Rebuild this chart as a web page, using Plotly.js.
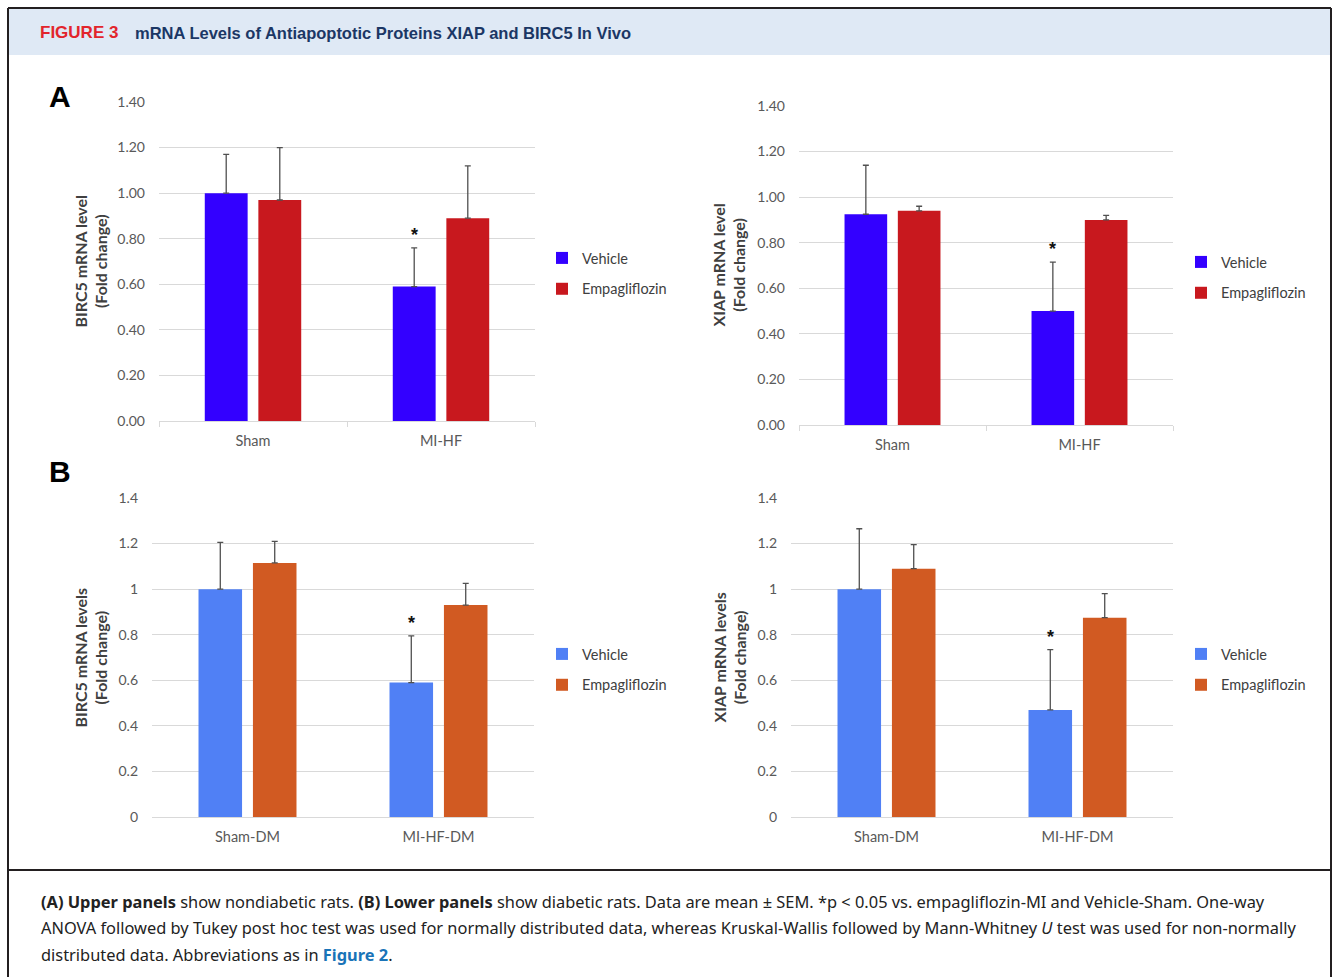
<!DOCTYPE html>
<html>
<head>
<meta charset="utf-8">
<script src="https://cdn.plot.ly/plotly-3.0.1.min.js"></script>
<style>
  html, body { margin: 0; padding: 0; background: #ffffff; }
  #chart { width: 1336px; height: 977px; }
</style>
</head>
<body>
<div id="chart"></div>
<script>
// ---------------- Data ----------------
const groupsNonDiabetic = ['Sham', 'MI-HF'];
const groupsDiabetic = ['Sham-DM', 'MI-HF-DM'];
const seriesNames = ['Vehicle', 'Empagliflozin'];

// Panel A (non-diabetic) – BIRC5
const birc5A_vehicle = [1.00, 0.59];
const birc5A_vehicleSem = [0.17, 0.17];
const birc5A_empa = [0.97, 0.89];
const birc5A_empaSem = [0.23, 0.23];

// Panel A (non-diabetic) – XIAP
const xiapA_vehicle = [0.925, 0.50];
const xiapA_vehicleSem = [0.215, 0.215];
const xiapA_empa = [0.94, 0.90];
const xiapA_empaSem = [0.02, 0.02];

// Panel B (diabetic) – BIRC5
const birc5B_vehicle = [1.00, 0.59];
const birc5B_vehicleSem = [0.205, 0.205];
const birc5B_empa = [1.115, 0.93];
const birc5B_empaSem = [0.095, 0.095];

// Panel B (diabetic) – XIAP
const xiapB_vehicle = [1.00, 0.47];
const xiapB_vehicleSem = [0.265, 0.265];
const xiapB_empa = [1.09, 0.875];
const xiapB_empaSem = [0.105, 0.105];

// significance marker (index of the group carrying "*", on the Vehicle bar)
const sigIndex = 1;

const yTitles = ['BIRC5 mRNA level<br>(Fold change)', 'XIAP mRNA level<br>(Fold change)',
                 'BIRC5 mRNA levels<br>(Fold change)', 'XIAP mRNA levels<br>(Fold change)'];

// ---------------- Styling ----------------
const W = 1336, H = 977;
const px = x => x / W;
const py = y => 1 - y / H;
const FONT = 'Lato, "Open Sans", sans-serif';
const BARGAP = 0.43, BARGROUPGAP = 0.2;
const colA = ['#3300ff', '#c8181e'];
const colB = ['#5080f5', '#d15a22'];
const grid = '#d9d9d9';
const tickCol = '#595959';

const panels = [
  {cats: groupsNonDiabetic, veh: birc5A_vehicle, vehS: birc5A_vehicleSem, emp: birc5A_empa, empS: birc5A_empaSem,
   cols: colA, x: [159, 535], y: [421, 102], fmt: '.2f', ticks: true, legX: 542, legY: 242, title: yTitles[0], titleX: 90},
  {cats: groupsNonDiabetic, veh: xiapA_vehicle, vehS: xiapA_vehicleSem, emp: xiapA_empa, empS: xiapA_empaSem,
   cols: colA, x: [799, 1173], y: [425, 106], fmt: '.2f', ticks: true, legX: 1181, legY: 246, title: yTitles[1], titleX: 729},
  {cats: groupsDiabetic, veh: birc5B_vehicle, vehS: birc5B_vehicleSem, emp: birc5B_empa, empS: birc5B_empaSem,
   cols: colB, x: [152, 534], y: [817, 498], fmt: '', ticks: false, legX: 542, legY: 638, title: yTitles[2], titleX: 90},
  {cats: groupsDiabetic, veh: xiapB_vehicle, vehS: xiapB_vehicleSem, emp: xiapB_empa, empS: xiapB_empaSem,
   cols: colB, x: [791, 1173], y: [817, 498], fmt: '', ticks: false, legX: 1181, legY: 638, title: yTitles[3], titleX: 729}
];

const data = [];
const layout = {
  width: W, height: H, autosize: false,
  margin: {l: 0, r: 0, t: 0, b: 0, pad: 0},
  paper_bgcolor: '#ffffff', plot_bgcolor: '#ffffff',
  font: {family: FONT, size: 14, color: tickCol},
  barmode: 'group', bargap: BARGAP, bargroupgap: BARGROUPGAP,
  showlegend: true,
  annotations: [], shapes: []
};

panels.forEach((p, i) => {
  const n = i === 0 ? '' : String(i + 1);
  const legName = 'legend' + n;
  const xa = 'x' + n, ya = 'y' + n;
  const mk = (name, vals, sem, color, k) => ({
    type: 'bar', name: name, x: p.cats, y: vals,
    xaxis: xa, yaxis: ya, legend: legName, legendgroup: 'g' + i + '_' + k,
    marker: {color: color, line: {width: 0}},
    error_y: {type: 'data', array: sem, arrayminus: sem.map(() => 0), symmetric: false,
              visible: true, color: '#505050', thickness: 1.3, width: 3},
    hoverinfo: 'x+y+name'
  });
  data.push(mk(seriesNames[0], p.veh, p.vehS, p.cols[0], 0));
  data.push(mk(seriesNames[1], p.emp, p.empS, p.cols[1], 1));

  layout['xaxis' + n] = {
    domain: [px(p.x[0]), px(p.x[1])], anchor: ya, type: 'category',
    showgrid: false, zeroline: false, showline: true, linecolor: grid, linewidth: 1,
    ticks: 'outside', tickson: 'boundaries', ticklen: 5,
    tickcolor: p.ticks ? grid : 'rgba(0,0,0,0)', ticklabelstandoff: 7,
    tickfont: {family: FONT, size: 14.5, color: tickCol}, fixedrange: true
  };
  layout['yaxis' + n] = {
    domain: [py(p.y[0]), py(p.y[1])], anchor: xa, range: [0, 1.4], dtick: 0.2,
    tickformat: p.fmt, showgrid: true, gridcolor: grid, gridwidth: 1, zeroline: false,
    showline: false, ticks: '', ticklabelstandoff: 13,
    tickfont: {family: FONT, size: 14, color: tickCol}, fixedrange: true
  };
  layout[legName] = {
    x: px(p.legX), y: py(p.legY), xanchor: 'left', yanchor: 'top',
    xref: 'paper', yref: 'paper', bgcolor: 'rgba(0,0,0,0)', borderwidth: 0,
    traceorder: 'grouped', tracegroupgap: 9, itemwidth: 30,
    font: {family: FONT, size: 14.5, color: '#404040'}
  };
  // y-axis title
  layout.annotations.push({
    xref: 'paper', yref: 'paper', x: px(p.titleX), y: py((p.y[0] + p.y[1]) / 2),
    xanchor: 'center', yanchor: 'middle', textangle: -90, showarrow: false,
    text: '<b>' + p.title + '</b>', font: {family: FONT, size: 16, color: '#404040'}
  });
  // significance asterisk above the Vehicle error bar
  layout.annotations.push({
    xref: xa, yref: ya, x: sigIndex - (1 - BARGAP) / 4, y: p.veh[sigIndex] + p.vehS[sigIndex],
    xanchor: 'center', yanchor: 'bottom', showarrow: false, yshift: 1,
    text: '<b>*</b>', font: {family: 'Liberation Sans, Arial, sans-serif', size: 18, color: '#111111'}
  });
});

// panel letters
layout.annotations.push({xref: 'paper', yref: 'paper', x: px(47), y: py(97), xanchor: 'left', yanchor: 'middle',
  showarrow: false, text: '<b>A</b>', font: {family: 'Liberation Sans, Arial, sans-serif', size: 30, color: '#000000'}});
layout.annotations.push({xref: 'paper', yref: 'paper', x: px(47), y: py(471), xanchor: 'left', yanchor: 'middle',
  showarrow: false, text: '<b>B</b>', font: {family: 'Liberation Sans, Arial, sans-serif', size: 30, color: '#000000'}});

// header
layout.shapes.push({type: 'rect', xref: 'paper', yref: 'paper', x0: px(9), x1: px(1330), y0: py(55), y1: py(9),
  fillcolor: '#dfe9f5', line: {width: 0}, layer: 'below'});
layout.annotations.push({xref: 'paper', yref: 'paper', x: px(38), y: py(33), xanchor: 'left', yanchor: 'middle',
  showarrow: false, text: '<b>FIGURE 3</b>', font: {family: 'Liberation Sans, Arial, sans-serif', size: 17, color: '#e2242b'}});
layout.annotations.push({xref: 'paper', yref: 'paper', x: px(133), y: py(33), xanchor: 'left', yanchor: 'middle',
  showarrow: false, text: '<b>mRNA Levels of Antiapoptotic Proteins XIAP and BIRC5 In Vivo</b>',
  font: {family: 'Liberation Sans, Arial, sans-serif', size: 16.5, color: '#1b3765'}});

// frame lines
const frameCol = '#231f20';
[[8, 8, 8, 977], [1331, 8, 1331, 977], [8, 8, 1331, 8], [8, 870, 1331, 870]].forEach(l => {
  layout.shapes.push({type: 'line', xref: 'paper', yref: 'paper', x0: px(l[0]), y0: py(l[1]), x1: px(l[2]), y1: py(l[3]),
    line: {color: frameCol, width: 2}});
});

// caption
const captionLines = [
  '<b>(A) Upper panels</b> show nondiabetic rats. <b>(B) Lower panels</b> show diabetic rats. Data are mean ± SEM. *p &lt; 0.05 vs. empagliflozin-MI and Vehicle-Sham. One-way',
  'ANOVA followed by Tukey post hoc test was used for normally distributed data, whereas Kruskal-Wallis followed by Mann-Whitney <i>U</i> test was used for non-normally',
  'distributed data. Abbreviations as in <b><span style="color:#1a74b8">Figure 2</span></b>.'
];
const captionY = [901, 927, 954];
captionLines.forEach((t, i) => {
  layout.annotations.push({xref: 'paper', yref: 'paper', x: px(39), y: py(captionY[i]), xanchor: 'left', yanchor: 'middle',
    showarrow: false, text: t, font: {family: '"Noto Sans", sans-serif', size: 16.4, color: '#222222'}});
});

Plotly.newPlot('chart', data, layout, {displayModeBar: false, staticPlot: false, responsive: false});
</script>
</body>
</html>
